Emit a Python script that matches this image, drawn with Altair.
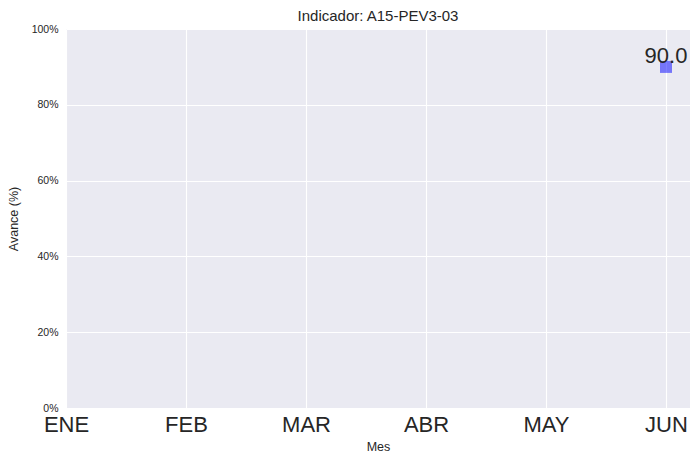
import altair as alt
import pandas as pd

meses = ["ENE", "FEB", "MAR", "ABR", "MAY", "JUN"]
mes_punto = ["JUN"]
avance = [90.0]
y_ticks = [0, 20, 40, 60, 80, 100]

df = pd.DataFrame({
    "mes": mes_punto,
    "idx": [meses.index(m) for m in mes_punto],
    "avance": avance,
})
df["label"] = df["avance"].map(lambda v: f"{v:.1f}")

label_expr = "[" + ",".join(f"'{m}'" for m in meses) + "][datum.value]"

FONT = "Liberation Sans"
TXT = "#262626"

x = alt.X(
    "idx:Q",
    title="Mes",
    scale=alt.Scale(domain=[0, 5.2], nice=False, zero=False),
    axis=alt.Axis(
        values=list(range(len(meses))),
        labelExpr=label_expr,
        labelFontSize=22,
        labelColor=TXT,
        labelPadding=6,
        tickSize=0,
        domain=False,
        grid=True,
        gridColor="white",
        gridWidth=1.1,
        titleFontSize=12.5,
        titleFontWeight="normal",
        titleColor=TXT,
        titlePadding=5,
        labelFlush=False,
    ),
)
y = alt.Y(
    "avance:Q",
    title="Avance (%)",
    scale=alt.Scale(domain=[0, 100], nice=False),
    axis=alt.Axis(
        values=y_ticks,
        labelExpr="datum.value + '%'",
        labelFontSize=10.5,
        labelColor=TXT,
        labelPadding=8,
        tickSize=0,
        domain=False,
        grid=True,
        gridColor="white",
        gridWidth=1.1,
        titleFontSize=12.5,
        titleFontWeight="normal",
        titleColor=TXT,
        titlePadding=11,
    ),
)

base = alt.Chart(df)
points = base.mark_square(size=144, color="blue", opacity=0.5, strokeWidth=0).encode(x=x, y=y)
labels = base.mark_text(fontSize=22, color=TXT, baseline="alphabetic", dy=-4, font=FONT).encode(
    x=x, y=y, text="label:N"
)

chart = (
    alt.layer(points, labels)
    .properties(
        width=624,
        height=379,
        title=alt.TitleParams("Indicador: A15-PEV3-03", fontSize=15, fontWeight="normal", color=TXT, offset=0, font=FONT),
        padding={"left": 58, "top": 21, "right": 0, "bottom": 44},
        autosize=alt.AutoSizeParams(type="none"),
    )
    .configure(font=FONT)
    .configure_view(fill="#EAEAF2", stroke=None)
)

chart.save("out.html", embed_options={"renderer": "svg", "actions": False})
